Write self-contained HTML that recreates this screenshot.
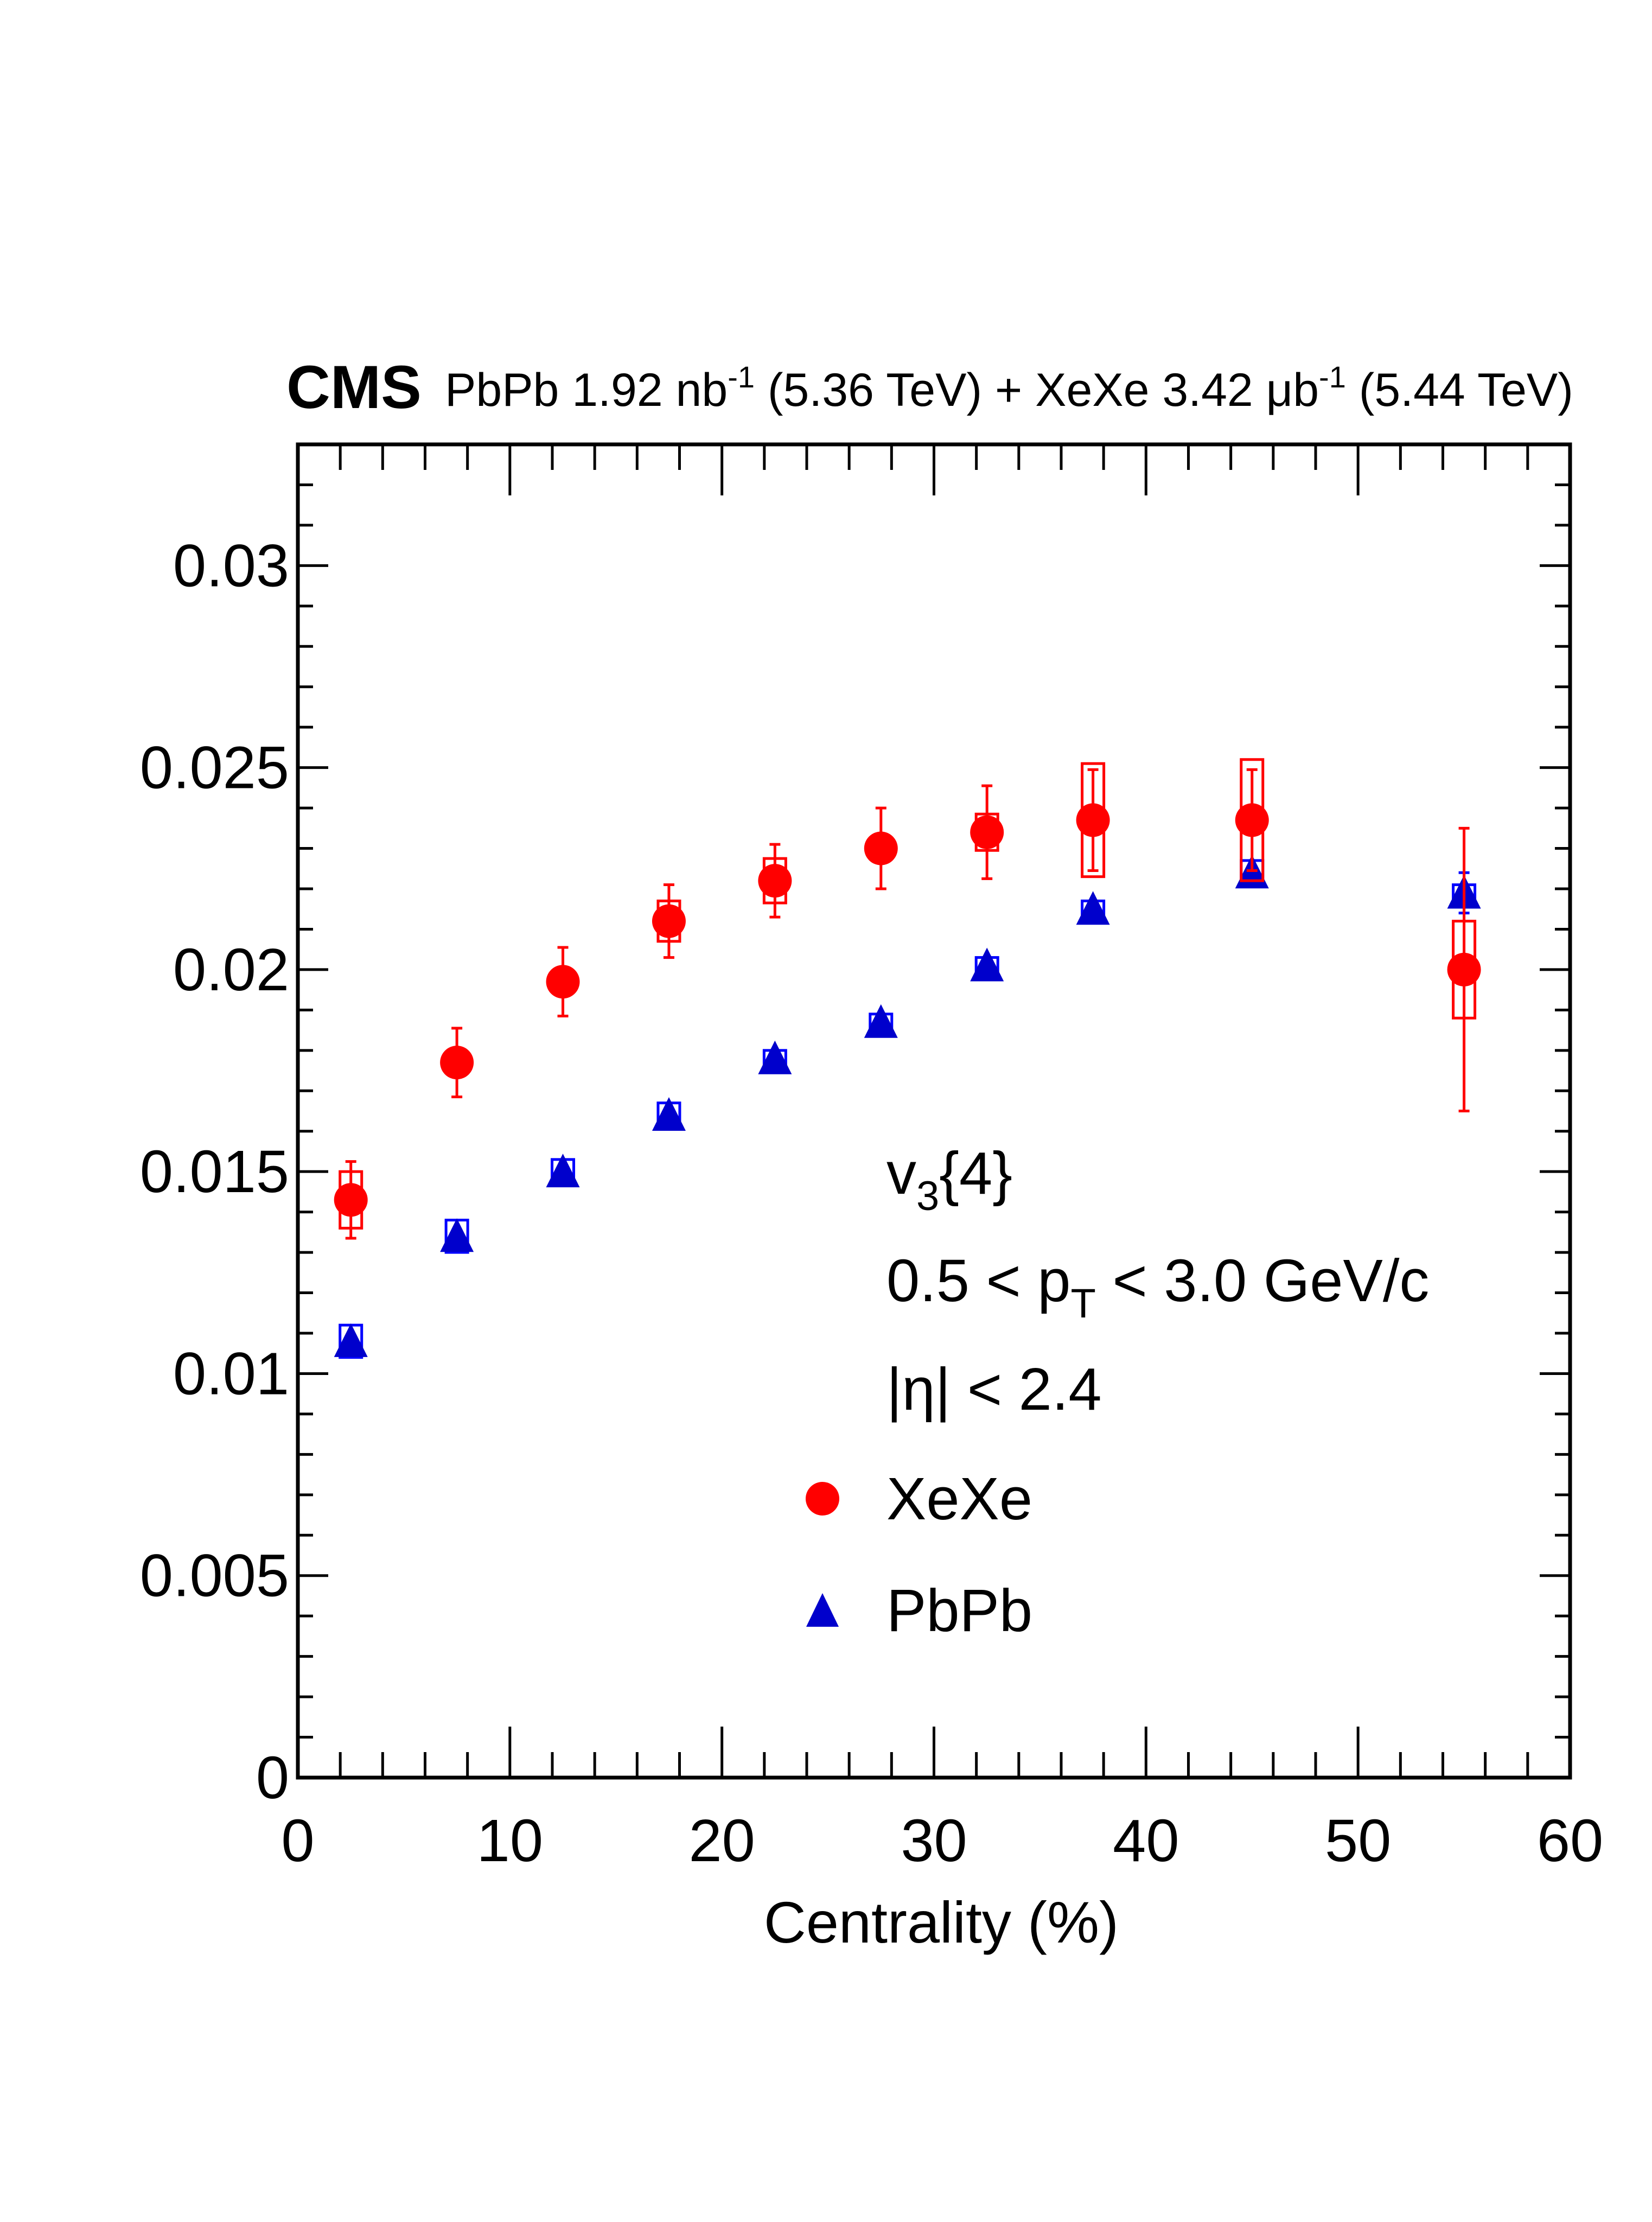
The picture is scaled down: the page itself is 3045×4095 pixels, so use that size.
<!DOCTYPE html>
<html><head><meta charset="utf-8"><style>
html,body{margin:0;padding:0;background:#fff}
svg{display:block}
text{font-family:"Liberation Sans",Arial,sans-serif;fill:#000}
</style></head><body>
<svg id="chart" xmlns="http://www.w3.org/2000/svg" width="3045" height="4095" viewBox="0 0 3045 4095">
<rect width="3045" height="4095" fill="#fff"/>
<g id="marks"></g>
<g id="axes"></g>
<text x="528" y="752" font-size="112" font-weight="bold">CMS</text>
<text x="820" y="748" font-size="86">PbPb 1.92 nb<tspan dy="-34" font-size="56">-1</tspan><tspan dy="34"> (5.36 TeV) + XeXe 3.42 μb</tspan><tspan dy="-34" font-size="56">-1</tspan><tspan dy="34"> (5.44 TeV)</tspan></text>
<text x="2062" y="3580" font-size="108" text-anchor="end">Centrality (%)</text>
<text x="1634" y="2200" font-size="110">v<tspan dy="30" font-size="76">3</tspan><tspan dy="-30">{4}</tspan></text>
<text x="1634" y="2398" font-size="110">0.5 &lt; p<tspan dy="30" font-size="76">T</tspan><tspan dy="-30"> &lt; 3.0 GeV/c</tspan></text>
<text x="1634" y="2598" font-size="110">|η| &lt; 2.4</text>
<circle cx="1516" cy="2762" r="31" fill="#ff0000"/>
<text x="1634" y="2800" font-size="110">XeXe</text>
<polygon points="1516,2936 1486,2998 1546,2998" fill="#0000cc"/>
<text x="1634" y="3006" font-size="110">PbPb</text>
</svg>
<script>
const centrality = [2.5, 7.5, 12.5, 17.5, 22.5, 27.5, 32.5, 37.5, 45, 55];
const xexeValues = [0.0143, 0.0177, 0.0197, 0.0212, 0.0222, 0.0230, 0.0234, 0.0237, 0.0237, 0.0200];
const xexeStat = [0.00095, 0.00085, 0.00085, 0.0009, 0.0009, 0.0010, 0.00115, 0.00125, 0.00125, 0.0035];
const xexeSys = [0.0007, 0.0002, 0.0002, 0.0005, 0.00055, 0.0001, 0.00045, 0.0014, 0.0015, 0.0012];
const pbpbValues = [0.0108, 0.0134, 0.0150, 0.0164, 0.0178, 0.0187, 0.0201, 0.0215, 0.0224, 0.0219];
const pbpbStat = [0.0001, 0.0001, 0.0001, 0.0001, 0.0001, 0.0001, 0.0001, 0.0001, 0.0001, 0.0005];
const pbpbSys = [0.0004, 0.0004, 0.0003, 0.0003, 0.0002, 0.0002, 0.0002, 0.0002, 0.0003, 0.0002];
const xTickLabels = ["0","10","20","30","40","50","60"];
const yTickLabels = ["0","0.005","0.01","0.015","0.02","0.025","0.03"];

const L=549, R=2894, T=819, B=3276, XMAX=60, YMAX=0.033;
const sx = v => L + (v/XMAX)*(R-L);
const sy = v => B - (v/YMAX)*(B-T);
const NS="http://www.w3.org/2000/svg";
const marks=document.getElementById('marks');
const axes=document.getElementById('axes');
function mk(tag, attrs, parent){const e=document.createElementNS(NS,tag);for(const k in attrs)e.setAttribute(k,attrs[k]);parent.appendChild(e);return e;}

function drawSeries(vals, stat, sys, color, boxColor, kind){
  for(let i=0;i<centrality.length;i++){
    const x=sx(centrality[i]), y=sy(vals[i]);
    const g=mk('g',{},marks);
    
    
    const y1=sy(vals[i]+sys[i]), y2=sy(vals[i]-sys[i]);
    const box=mk('rect',{x:x-20,y:y1,width:40,height:Math.max(y2-y1,2),fill:'none',stroke:boxColor,'stroke-width':5},g);
    
    
    const s1=sy(vals[i]+stat[i]), s2=sy(vals[i]-stat[i]);
    const eb=mk('path',{d:`M${x},${s1}V${s2}M${x-10},${s1}H${x+10}M${x-10},${s2}H${x+10}`,stroke:boxColor,'stroke-width':5,fill:'none'},g);
    
    
    let m;
    if(kind==='xexe') m=mk('circle',{cx:x,cy:y,r:31,fill:color},g);
    else m=mk('polygon',{points:`${x},${y-33} ${x-31},${y+29} ${x+31},${y+29}`,fill:color},g);
    
    
  }
}
drawSeries(pbpbValues, pbpbStat, pbpbSys, '#0000cc', '#0000ff', 'pbpb');
drawSeries(xexeValues, xexeStat, xexeSys, '#ff0000', '#ff0000', 'xexe');

const fr=mk('rect',{x:L,y:T,width:R-L,height:B-T,fill:'none',stroke:'#000','stroke-width':7},axes);


for(let v=0; v<=XMAX; v+=2){
  const x=sx(v), len=(v%10===0)?94:47;
  mk('path',{d:`M${x},${B}V${B-len}M${x},${T}V${T+len}`,stroke:'#000','stroke-width':5},axes);
}
for(let k=0;k<=33;k++){
  const v=k*0.001, y=sy(v), len=(k%5===0)?56:28;
  mk('path',{d:`M${L},${y}H${L+len}M${R},${y}H${R-len}`,stroke:'#000','stroke-width':5},axes);
}
xTickLabels.forEach((t,i)=>{
  const el=mk('text',{x:sx(i*10),y:3430,'font-size':110,'text-anchor':'middle'},axes);
  el.textContent=t;
  
  
});
yTickLabels.forEach((t,i)=>{
  const el=mk('text',{x:533,y:sy(i*0.005)+38,'font-size':110,'text-anchor':'end'},axes);
  el.textContent=t;
  
  
});
</script>
</body></html>
